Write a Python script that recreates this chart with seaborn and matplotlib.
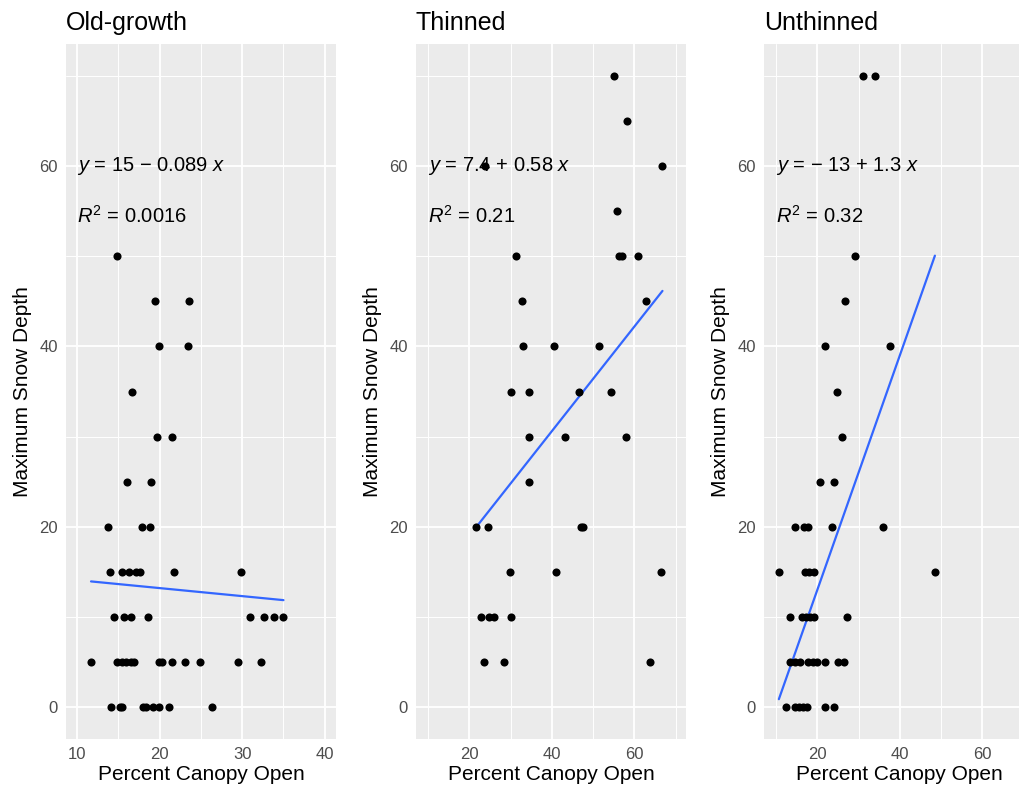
import numpy as np
import pandas as pd
import seaborn as sns
import matplotlib.pyplot as plt
from matplotlib.ticker import MultipleLocator, FixedLocator

# Panel titles
panels = ['Old-growth', 'Thinned', 'Unthinned']

# Old-growth points (percent canopy open, max snow depth)
og_x = [14.9, 19.5, 23.6, 19.9, 23.5, 16.7, 19.7, 21.5, 16.0, 19.0,
        13.8, 17.9, 18.8,
        14.0, 15.4, 16.3, 17.1, 17.6, 21.8, 29.8,
        14.5, 15.7, 16.5, 18.6, 30.9, 32.7, 33.8, 35.0,
        11.7, 14.9, 15.4, 15.9, 16.5, 16.9, 19.9, 20.3, 21.5, 23.1, 24.9, 29.5, 32.3,
        14.1, 15.2, 15.5, 18.0, 18.4, 19.2, 19.9, 21.1, 26.3]
og_y = [50, 45, 45, 40, 40, 35, 30, 30, 25, 25,
        20, 20, 20,
        15, 15, 15, 15, 15, 15, 15,
        10, 10, 10, 10, 10, 10, 10, 10,
        5, 5, 5, 5, 5, 5, 5, 5, 5, 5, 5, 5, 5,
        0, 0, 0, 0, 0, 0, 0, 0, 0]

# Thinned points
th_x = [55.1, 58.3, 66.8, 23.9, 55.7,
        31.3, 56.2, 57.0, 60.8,
        32.7, 62.9,
        33.1, 40.5, 51.5,
        30.2, 34.4, 46.5, 54.3,
        34.4, 43.2, 57.9,
        34.4,
        21.6, 24.5, 47.1, 47.6,
        29.8, 41.1, 66.4,
        22.9, 24.8, 26.0, 30.2,
        23.5, 28.5, 63.9]
th_y = [70, 65, 60, 60, 55,
        50, 50, 50, 50,
        45, 45,
        40, 40, 40,
        35, 35, 35, 35,
        30, 30, 30,
        25,
        20, 20, 20, 20,
        15, 15, 15,
        10, 10, 10, 10,
        5, 5, 5]

# Unthinned points
un_x = [31.1, 33.9,
        29.2,
        26.7,
        21.8, 37.5,
        24.9,
        26.1,
        20.6, 24.0,
        14.6, 16.7, 17.7, 23.5, 36.0,
        10.7, 17.1, 18.1, 19.3, 48.5,
        13.5, 16.3, 17.3, 18.3, 19.3, 27.2,
        13.3, 14.5, 15.7, 17.7, 18.9, 19.9, 21.8, 25.0, 26.4,
        12.5, 14.5, 15.5, 16.5, 17.6, 21.9, 24.0]
un_y = [70, 70,
        50,
        45,
        40, 40,
        35,
        30,
        25, 25,
        20, 20, 20, 20, 20,
        15, 15, 15, 15, 15,
        10, 10, 10, 10, 10, 10,
        5, 5, 5, 5, 5, 5, 5, 5, 5,
        0, 0, 0, 0, 0, 0, 0]

# Fitted lines as printed on the chart
intercepts = [15, 7.4, -13]
slopes = [-0.089, 0.58, 1.3]
eq_labels = ['$y$ = 15 \u2212 0.089 $x$',
             '$y$ = 7.4 + 0.58 $x$',
             '$y$ = \u2212 13 + 1.3 $x$']
r2_values = ['0.0016', '0.21', '0.32']
x_ticks = [[10, 20, 30, 40], [20, 40, 60], [20, 40, 60]]

xs = [og_x, th_x, un_x]
ys = [og_y, th_y, un_y]

sns.set_theme(style='darkgrid', rc={
    'axes.facecolor': '#EBEBEB',
    'grid.color': 'white',
    'axes.edgecolor': '#EBEBEB',
})
plt.rcParams['font.family'] = ['Liberation Sans', 'DejaVu Sans']
plt.rcParams['mathtext.fontset'] = 'custom'
plt.rcParams['mathtext.rm'] = 'Liberation Sans'
plt.rcParams['mathtext.it'] = 'Liberation Sans:italic'

fig = plt.figure(figsize=(10.2, 7.96), dpi=100)

# panel positions (third one runs off the right edge like the original)
lefts = [66 / 1020, 416 / 1020, 764 / 1020]
width = 270 / 1020
bottom = 1 - 739 / 796
height = (739 - 44) / 796
xlims = [(8.67, 41.36), (7.1, 72.5), (7.1, 72.5)]

for i in range(3):
    ax = fig.add_axes([lefts[i], bottom, width, height])
    df = pd.DataFrame({'x': xs[i], 'y': ys[i]})

    sns.scatterplot(data=df, x='x', y='y', ax=ax, color='black', s=34,
                    linewidth=0, zorder=3)

    # regression line over the data range
    x_line = np.array([df['x'].min(), df['x'].max()])
    line_df = pd.DataFrame({'x': x_line, 'y': intercepts[i] + slopes[i] * x_line})
    sns.lineplot(data=line_df, x='x', y='y', ax=ax, color='#3366FF',
                 linewidth=1.6, zorder=2)

    ax.text(10, 60, eq_labels[i], fontsize=14.5, ha='left', va='center',
            color='black', zorder=1)
    ax.text(10, 54.5, '$R^2$ = ' + r2_values[i], fontsize=14.5, ha='left',
            va='center', color='black', zorder=1)

    ax.set_xlim(*xlims[i])
    ax.set_ylim(-3.5, 73.5)
    ax.xaxis.set_major_locator(FixedLocator(x_ticks[i]))
    step = x_ticks[i][1] - x_ticks[i][0]
    ax.xaxis.set_minor_locator(MultipleLocator(step / 2))
    ax.yaxis.set_major_locator(FixedLocator([0, 20, 40, 60]))
    ax.yaxis.set_minor_locator(MultipleLocator(10))
    ax.grid(which='major', color='white', linewidth=1.3)
    ax.grid(which='minor', color='white', linewidth=0.7)
    ax.set_axisbelow(True)
    for s in ax.spines.values():
        s.set_visible(False)

    ax.tick_params(axis='both', which='major', direction='out', length=3.5,
                   width=0.9, color='#333333', labelcolor='#4D4D4D',
                   labelsize=12, pad=2.5)
    ax.tick_params(axis='both', which='minor', length=0)

    ax.set_xlabel('Percent Canopy Open', fontsize=15, color='black', labelpad=2)
    ax.set_ylabel('Maximum Snow Depth', fontsize=15, color='black', labelpad=5)
    ax.set_title(panels[i], loc='left', fontsize=18, color='black', pad=10)

fig.savefig('out.png', dpi=100)
